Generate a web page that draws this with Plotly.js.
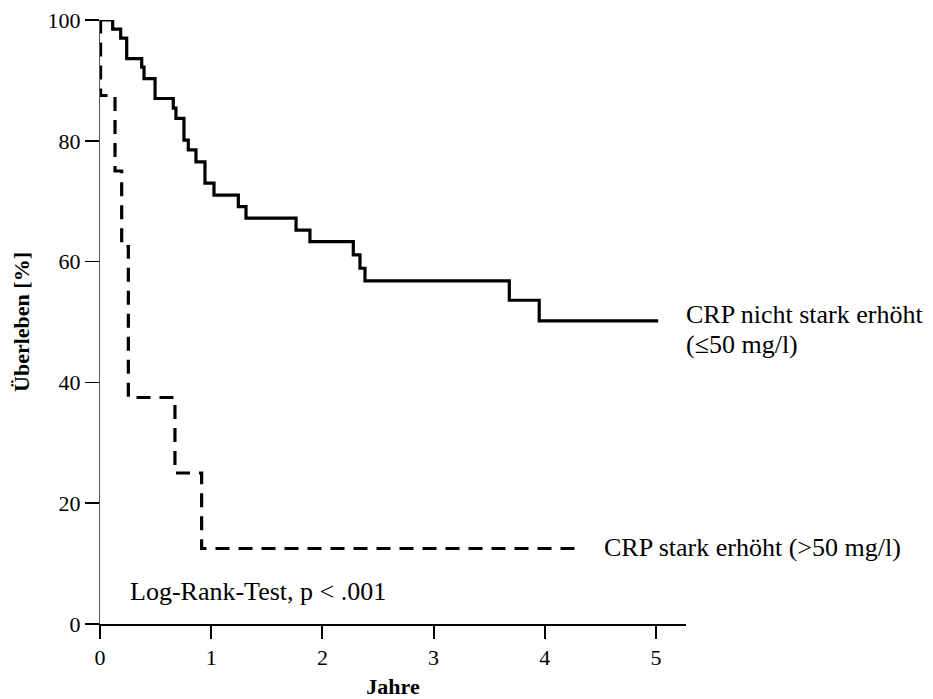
<!DOCTYPE html>
<html>
<head>
<meta charset="utf-8">
<script src="https://cdn.plot.ly/plotly-3.0.1.min.js"></script>
<style>html,body{margin:0;padding:0;background:#fff;}#chart{width:933px;height:699px;}</style>
</head>
<body>
<div id="chart"></div>
<script>
// Kaplan-Meier step data (years, survival %)
const lowTimes = [0, 0.114, 0.186, 0.240, 0.375, 0.396, 0.495, 0.659, 0.683, 0.755, 0.794, 0.863, 0.944, 1.025, 1.244, 1.313, 1.763, 1.888, 2.278, 2.338, 2.383, 3.681, 3.95, 5.02];
const lowSurv  = [100, 98.5, 97, 93.6, 92.2, 90.3, 87, 85.4, 83.7, 80.1, 78.5, 76.5, 73, 71, 69.1, 67.2, 65.2, 63.3, 61.1, 58.9, 56.8, 53.6, 50.2, 50.2];
const highTimes = [0, 0.005, 0.135, 0.195, 0.255, 0.674, 0.914, 4.30];
const highSurv  = [100, 87.5, 75, 62.5, 37.5, 25, 12.5, 12.5];
const xTicks = [0, 1, 2, 3, 4, 5];
const yTicks = [0, 20, 40, 60, 80, 100];
const labelLow = ["CRP nicht stark erhöht", "(≤50 mg/l)"];
const labelHigh = "CRP stark erhöht (>50 mg/l)";
const testLabel = "Log-Rank-Test, p < .001";

const font = "'Liberation Serif', 'Times New Roman', serif";

const traces = [
  {x: lowTimes, y: lowSurv, mode: "lines", line: {shape: "hv", color: "#000", width: 3.2}, showlegend: false, hoverinfo: "skip"},
  {x: highTimes, y: highSurv, mode: "lines", line: {shape: "hv", color: "#000", width: 3.2, dash: "14px,9px"}, showlegend: false, hoverinfo: "skip"}
];

const annFont = {family: font, size: 26, color: "#000"};

const layout = {
  width: 933, height: 699,
  margin: {l: 100, r: 247, t: 20, b: 75},
  paper_bgcolor: "#fff", plot_bgcolor: "#fff",
  font: {family: font, color: "#000", size: 22},
  xaxis: {
    range: [0, 5.27], tickvals: xTicks, ticktext: xTicks.map(String),
    showgrid: false, zeroline: false, showline: true, linecolor: "#000", linewidth: 1.5,
    ticks: "outside", ticklen: 13, tickwidth: 2, tickcolor: "#000",
    tickfont: {family: font, size: 22, color: "#000"},
    title: {text: "<b>Jahre</b>", font: {family: font, size: 22, color: "#000"}, standoff: 16}
  },
  yaxis: {
    range: [0, 100], tickvals: yTicks, ticktext: yTicks.map(String),
    showgrid: false, zeroline: false, showline: true, linecolor: "#555", linewidth: 1,
    ticks: "outside", ticklen: 14, tickwidth: 1.5, tickcolor: "#000",
    tickfont: {family: font, size: 22, color: "#000"},
    title: {text: "<b>Überleben [%]</b>", font: {family: font, size: 22, color: "#000"}, standoff: 11}
  },
  annotations: [
    {x: 5.27, y: 51.2, xref: "x", yref: "y", xanchor: "left", yanchor: "middle", xshift: -2, showarrow: false,
     text: labelLow[0], font: annFont},
    {x: 5.27, y: 46.2, xref: "x", yref: "y", xanchor: "left", yanchor: "middle", xshift: -2, showarrow: false,
     text: labelLow[1], font: annFont},
    {x: 4.532, y: 12.6, xref: "x", yref: "y", xanchor: "left", yanchor: "middle", xshift: -2, showarrow: false,
     text: labelHigh, font: annFont},
    {x: 0.27, y: 5.3, xref: "x", yref: "y", xanchor: "left", yanchor: "middle", xshift: -2, showarrow: false,
     text: testLabel, font: annFont}
  ]
};

Plotly.newPlot("chart", traces, layout, {displayModeBar: false, staticPlot: true});
</script>
</body>
</html>
